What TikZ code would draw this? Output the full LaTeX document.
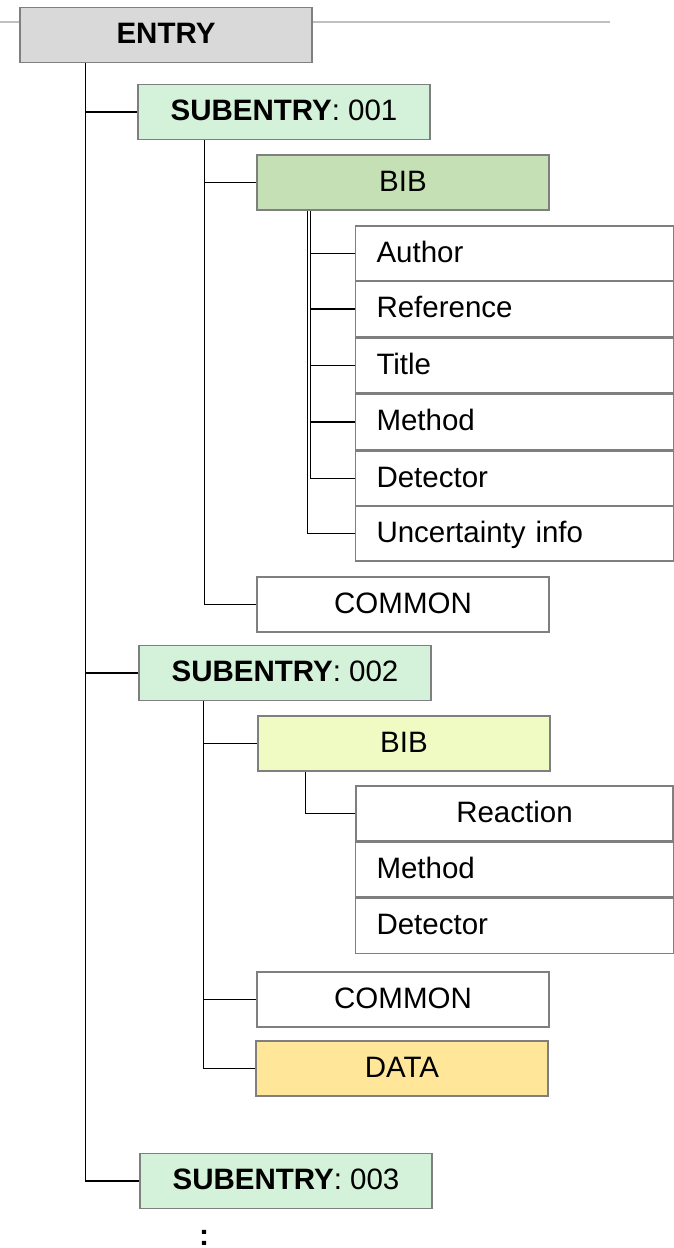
\documentclass[tikz,border=0pt]{standalone}
\usepackage{fontspec}
\setmainfont{Liberation Sans}
\definecolor{boxgray}{HTML}{7F7F7F}
\definecolor{entryfill}{HTML}{D9D9D9}
\definecolor{subfill}{HTML}{D4F1D9}
\definecolor{bibgreen}{HTML}{C5E0B4}
\definecolor{bibyellow}{HTML}{EFFBC2}
\definecolor{datafill}{HTML}{FFE699}
\definecolor{rulegray}{HTML}{BFBFBF}
\begin{document}
\begin{tikzpicture}[x=1pt,y=-1pt,
  every node/.style={font=\fontsize{29.5}{34}\selectfont, text height=21pt, text depth=4pt, inner sep=0pt},
  box/.style={draw=boxgray, line width=1.6pt, minimum height=55pt},
  wide/.style={box, minimum width=292pt},
  field/.style={box, text width=276pt, inner xsep=21pt, align=left},
  cfield/.style={box, minimum width=317pt},
  link/.style={draw=black, line width=1.4pt}]
\useasboundingbox (0,0) rectangle (674,1248);

% top rule and root
\coordinate (tl) at (0,22);
\coordinate (tr) at (610,22);
\node[wide, fill=entryfill] (entry) at (166,35) {\textbf{ENTRY}};
\draw[rulegray, line width=1.6pt] (tl) -- (tl -| entry.west);
\draw[rulegray, line width=1.6pt] (tr -| entry.east) -- (tr);

% subentry 001
\node[wide, fill=subfill] (se1) at (284,112) {\textbf{SUBENTRY}: 001};
\node[wide, fill=bibgreen] (bib1) at (403,182.5) {BIB};
\node[field, fill=white] (au) at (514.5,253.5) {Author};
\node[field, fill=white] (re) at (514.5,309) {Reference};
\node[field, fill=white] (ti) at (514.5,365.5) {Title};
\node[field, fill=white] (me1) at (514.5,422) {Method};
\node[field, fill=white] (de1) at (514.5,478.5) {Detector};
\node[field, fill=white] (un) at (514.5,533.5) {Uncertainty info};
\node[wide, fill=white] (co1) at (403,604.5) {COMMON};

% subentry 002
\node[wide, fill=subfill] (se2) at (285,673) {\textbf{SUBENTRY}: 002};
\node[wide, fill=bibyellow] (bib2) at (404,743.5) {BIB};
\node[cfield, fill=white] (rx) at (514.5,813.5) {Reaction};
\node[field, fill=white] (me2) at (514.5,869.5) {Method};
\node[field, fill=white] (de2) at (514.5,926) {Detector};
\node[wide, fill=white] (co2) at (403,999.5) {COMMON};
\node[wide, fill=datafill] (da) at (402,1068.5) {DATA};

% subentry 003
\node[wide, fill=subfill] (se3) at (286,1181) {\textbf{SUBENTRY}: 003};
\node[anchor=base, text height=16pt, text depth=0pt, font=\fontsize{30}{32}\selectfont\bfseries] (more) at (204,1245) {:};

% entry trunk
\foreach \c in {se1,se2,se3}
  \draw[link] ([xshift=66pt]entry.south west) |- (\c.west);

% subentry 001 trunk
\foreach \c in {bib1,co1}
  \draw[link] ([xshift=67pt]se1.south west) |- (\c.west);
\draw[link] ([xshift=51pt]bib1.south west) |- (un.west);
\foreach \c in {au,re,ti,me1,de1}
  \draw[link] ([xshift=54pt]bib1.south west) |- (\c.west);

% subentry 002 trunk
\foreach \c in {bib2,co2,da}
  \draw[link] ([xshift=65pt]se2.south west) |- (\c.west);
\draw[link] ([xshift=48pt]bib2.south west) |- (rx.west);
\end{tikzpicture}
\end{document}
